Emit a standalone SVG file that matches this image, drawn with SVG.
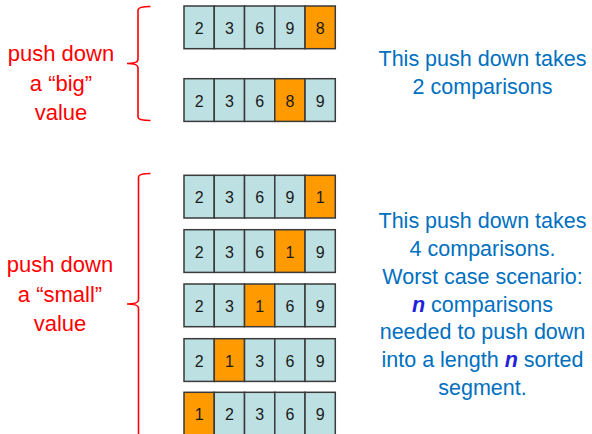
<svg xmlns="http://www.w3.org/2000/svg" width="592" height="434" viewBox="0 0 592 434">
<style>
.c{fill:#BDE0E3;stroke:#3a3a3a;stroke-width:1.5}
.o{fill:#FF9A00;stroke:#3a3a3a;stroke-width:1.5}
.d{font-family:"Liberation Sans",Arial,sans-serif;font-size:16px;fill:#1a1a1a;text-anchor:middle}
.r{font-family:"Liberation Sans",Arial,sans-serif;font-size:22px;fill:#FF0000;text-anchor:middle}
.b{font-family:"Liberation Sans",Arial,sans-serif;font-size:21.5px;fill:#0070C0;text-anchor:middle}
.n{font-weight:bold;font-style:italic;fill:#2222DD}
.br{fill:none;stroke:#FF0000;stroke-width:1.6}
</style>
<g id="row1" transform="translate(184,6)">
<rect class="c" x="0" y="0" width="30.26" height="42.7"/><rect class="c" x="30.26" y="0" width="30.26" height="42.7"/><rect class="c" x="60.52" y="0" width="30.26" height="42.7"/><rect class="c" x="90.78" y="0" width="30.26" height="42.7"/><rect class="o" x="121.04" y="0" width="30.26" height="42.7"/>
<text class="d" x="15.13" y="28">2</text><text class="d" x="45.39" y="28">3</text><text class="d" x="75.65" y="28">6</text><text class="d" x="105.91" y="28">9</text><text class="d" x="136.17" y="28">8</text>
</g>
<g id="row2" transform="translate(184,78.7)">
<rect class="c" x="0" y="0" width="30.26" height="42.7"/><rect class="c" x="30.26" y="0" width="30.26" height="42.7"/><rect class="c" x="60.52" y="0" width="30.26" height="42.7"/><rect class="o" x="90.78" y="0" width="30.26" height="42.7"/><rect class="c" x="121.04" y="0" width="30.26" height="42.7"/>
<text class="d" x="15.13" y="28">2</text><text class="d" x="45.39" y="28">3</text><text class="d" x="75.65" y="28">6</text><text class="d" x="105.91" y="28">8</text><text class="d" x="136.17" y="28">9</text>
</g>
<g id="row3" transform="translate(184,175.3)">
<rect class="c" x="0" y="0" width="30.26" height="42.7"/><rect class="c" x="30.26" y="0" width="30.26" height="42.7"/><rect class="c" x="60.52" y="0" width="30.26" height="42.7"/><rect class="c" x="90.78" y="0" width="30.26" height="42.7"/><rect class="o" x="121.04" y="0" width="30.26" height="42.7"/>
<text class="d" x="15.13" y="28">2</text><text class="d" x="45.39" y="28">3</text><text class="d" x="75.65" y="28">6</text><text class="d" x="105.91" y="28">9</text><text class="d" x="136.17" y="28">1</text>
</g>
<g id="row4" transform="translate(184,229.7)">
<rect class="c" x="0" y="0" width="30.26" height="42.7"/><rect class="c" x="30.26" y="0" width="30.26" height="42.7"/><rect class="c" x="60.52" y="0" width="30.26" height="42.7"/><rect class="o" x="90.78" y="0" width="30.26" height="42.7"/><rect class="c" x="121.04" y="0" width="30.26" height="42.7"/>
<text class="d" x="15.13" y="28">2</text><text class="d" x="45.39" y="28">3</text><text class="d" x="75.65" y="28">6</text><text class="d" x="105.91" y="28">1</text><text class="d" x="136.17" y="28">9</text>
</g>
<g id="row5" transform="translate(184,284)">
<rect class="c" x="0" y="0" width="30.26" height="42.7"/><rect class="c" x="30.26" y="0" width="30.26" height="42.7"/><rect class="o" x="60.52" y="0" width="30.26" height="42.7"/><rect class="c" x="90.78" y="0" width="30.26" height="42.7"/><rect class="c" x="121.04" y="0" width="30.26" height="42.7"/>
<text class="d" x="15.13" y="28">2</text><text class="d" x="45.39" y="28">3</text><text class="d" x="75.65" y="28">1</text><text class="d" x="105.91" y="28">6</text><text class="d" x="136.17" y="28">9</text>
</g>
<g id="row6" transform="translate(184,338.7)">
<rect class="c" x="0" y="0" width="30.26" height="42.7"/><rect class="o" x="30.26" y="0" width="30.26" height="42.7"/><rect class="c" x="60.52" y="0" width="30.26" height="42.7"/><rect class="c" x="90.78" y="0" width="30.26" height="42.7"/><rect class="c" x="121.04" y="0" width="30.26" height="42.7"/>
<text class="d" x="15.13" y="28">2</text><text class="d" x="45.39" y="28">1</text><text class="d" x="75.65" y="28">3</text><text class="d" x="105.91" y="28">6</text><text class="d" x="136.17" y="28">9</text>
</g>
<g id="row7" transform="translate(184,392.3)">
<rect class="o" x="0" y="0" width="30.26" height="42.7"/><rect class="c" x="30.26" y="0" width="30.26" height="42.7"/><rect class="c" x="60.52" y="0" width="30.26" height="42.7"/><rect class="c" x="90.78" y="0" width="30.26" height="42.7"/><rect class="c" x="121.04" y="0" width="30.26" height="42.7"/>
<text class="d" x="15.13" y="28">1</text><text class="d" x="45.39" y="28">2</text><text class="d" x="75.65" y="28">3</text><text class="d" x="105.91" y="28">6</text><text class="d" x="136.17" y="28">9</text>
</g>
<g id="connectors">
<path class="br" d="M150.5,6.5 Q138,6.5 138,10 L138,59.5 Q138,63.5 127,63.5 Q138,63.5 138,67.5 L138,117 Q138,120.5 150.5,120.5"/>
<path class="br" d="M150.5,173.5 Q138.5,173.5 138.5,177 L138.5,300 Q138.5,304 127,304 Q138.5,304 138.5,308 L138.5,440"/>
</g>
<g id="label-big">
<text class="r" x="61" y="60.5">push down</text>
<text class="r" x="61" y="90.5">a “big”</text>
<text class="r" x="61" y="120">value</text>
</g>
<g id="label-small">
<text class="r" x="60" y="272">push down</text>
<text class="r" x="60" y="301.5">a “small”</text>
<text class="r" x="60" y="331">value</text>
</g>
<g id="note-big">
<text class="b" x="482.5" y="65.5">This push down takes</text>
<text class="b" x="482.5" y="94">2 comparisons</text>
</g>
<g id="note-small">
<text class="b" x="482.5" y="228">This push down takes</text>
<text class="b" x="482.5" y="255.8">4 comparisons.</text>
<text class="b" x="482.5" y="283.7">Worst case scenario:</text>
<text class="b" x="482.5" y="311.5"><tspan class="n">n</tspan> comparisons</text>
<text class="b" x="482.5" y="339.3">needed to push down</text>
<text class="b" x="482.5" y="367.2">into a length <tspan class="n">n</tspan> sorted</text>
<text class="b" x="482.5" y="395">segment.</text>
</g>
</svg>
